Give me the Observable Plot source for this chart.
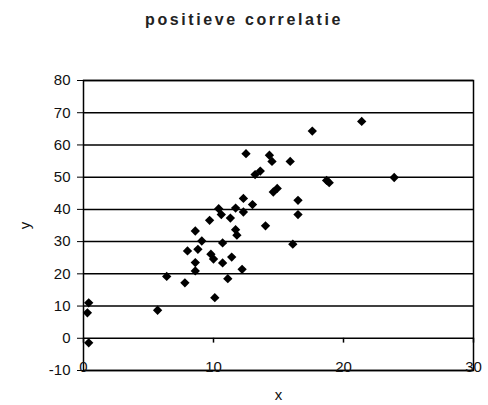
<!DOCTYPE html>
<html>
<head>
<meta charset="utf-8">
<script src="https://cdn.jsdelivr.net/npm/d3@7"></script>
<script src="https://cdn.jsdelivr.net/npm/@observablehq/plot@0.6"></script>
<style>
  body { margin: 0; background: #fff; }
  #title { height: 40px; box-sizing: border-box; padding-top: 11px; line-height: 18px;
           font: bold 16px "Liberation Sans", Arial, sans-serif; letter-spacing: 2.6px;
           text-align: center; color: #222; width: 488px; }
  svg { display: block; }
</style>
</head>
<body>
<div id="title">positieve correlatie</div>
<div id="chart"></div>
<script>
const title = "positieve correlatie";
const xValues = [0.4,0.3,0.4,5.7,6.4,7.8,8.0,8.6,8.8,9.1,8.6,8.6,9.7,9.8,10.0,10.1,10.4,10.6,10.7,10.7,11.1,11.3,11.4,11.7,11.7,11.8,12.2,12.3,12.3,12.5,13.0,13.2,13.6,14.0,14.3,14.5,14.6,14.9,15.9,16.5,16.5,16.1,17.6,21.4,18.7,18.9,23.9];
const yValues = [11.0,7.9,-1.4,8.7,19.2,17.2,27.1,33.3,27.6,30.2,23.5,20.9,36.6,26.1,24.6,12.6,40.2,38.4,29.6,23.4,18.5,37.3,25.2,40.4,33.7,32.0,21.4,43.4,39.2,57.3,41.5,50.8,51.9,34.9,56.8,54.9,45.4,46.5,54.9,42.8,38.4,29.2,64.3,67.3,49.0,48.3,49.9];
const xTicks = [0, 10, 20, 30];
const yTicks = [-10, 0, 10, 20, 30, 40, 50, 60, 70, 80];
const xLabel = "x";
const yLabel = "y";

const data = xValues.map((x, i) => ({x, y: yValues[i]}));

const chart = Plot.plot({
  width: 488,
  height: 365,
  marginTop: 40,
  marginBottom: 35,
  marginLeft: 83,
  marginRight: 15,
  style: {fontFamily: '"Liberation Sans", Arial, sans-serif', fontSize: "15px", color: "#111", background: "#fff"},
  x: {domain: [0, 30]},
  y: {domain: [-10, 80]},
  marks: [
    Plot.gridY(yTicks, {stroke: "black", strokeOpacity: 1, strokeWidth: 1.5}),
    Plot.frame({stroke: "black", strokeWidth: 1.5}),
    Plot.axisY(yTicks, {tickSize: 6, tickPadding: 7, stroke: "black", tickFormat: d => String(d),
                        label: yLabel, labelArrow: "none", labelAnchor: "center", labelOffset: 64}),
    Plot.ruleX(xTicks, {x: d => d, y1: 0, y2: -1.5, stroke: "black", strokeWidth: 1.5}),
    Plot.text(xTicks, {x: d => d, y: -10, text: d => String(d), lineAnchor: "bottom", dy: 1, fill: "#111"}),
    Plot.axisX({ticks: [], tickSize: 0, label: xLabel, labelArrow: "none", labelAnchor: "center", labelOffset: 29}),
    Plot.dot(data, {x: "x", y: "y", symbol: "diamond2", fill: "black", r: 4.2})
  ]
});
document.getElementById("chart").appendChild(chart);
</script>
</body>
</html>
